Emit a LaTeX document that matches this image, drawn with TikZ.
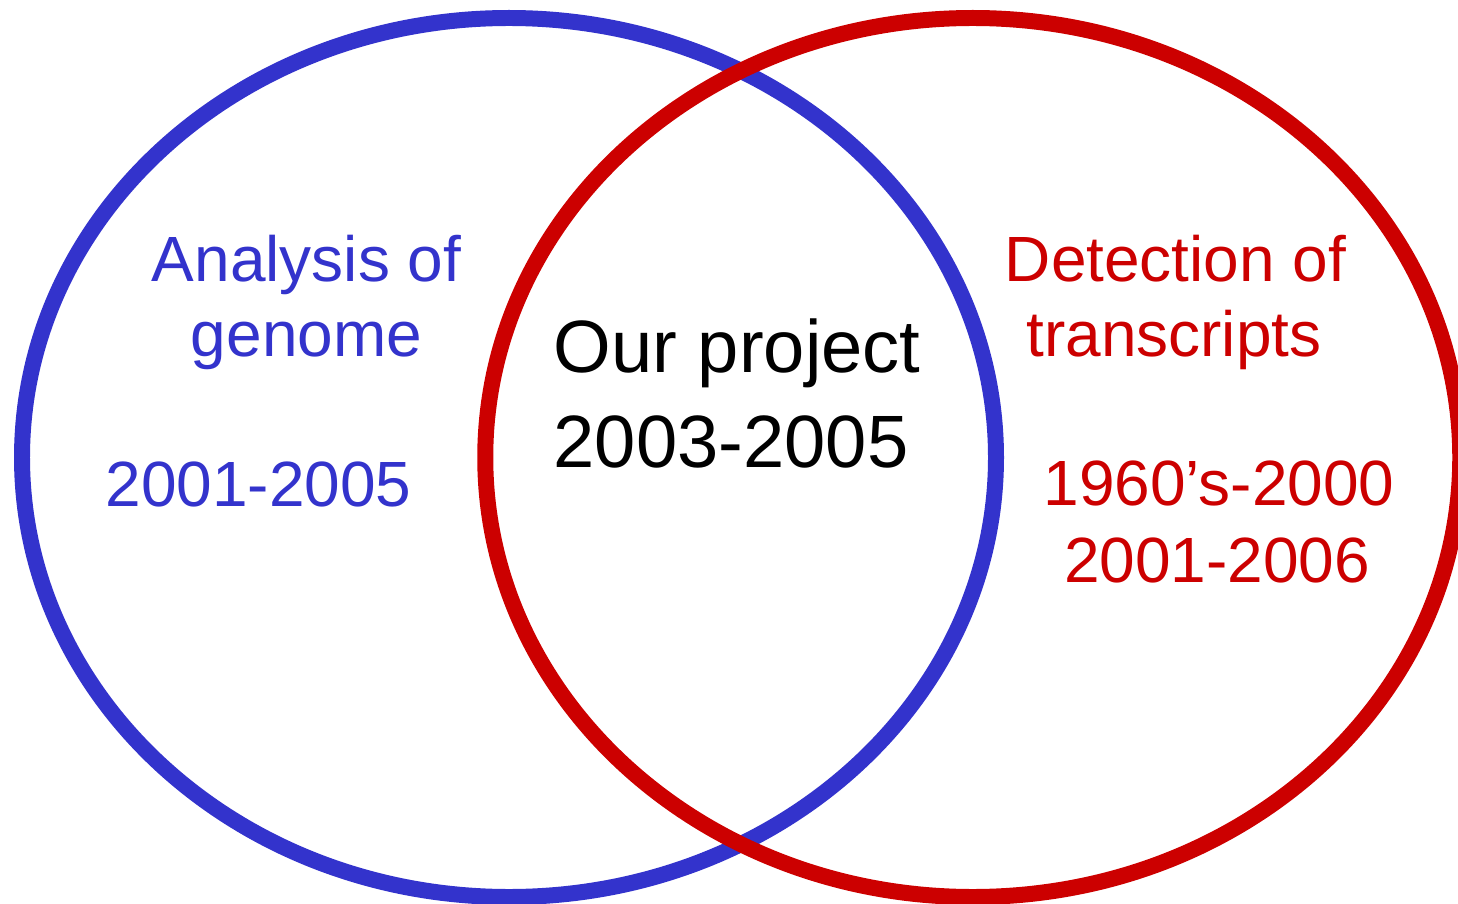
\documentclass[tikz,border=0pt]{standalone}
\usepackage{fontspec}
\setmainfont{Liberation Sans}
\usepackage{xcolor}
\usetikzlibrary{positioning}
\definecolor{genomeblue}{HTML}{3333CC}
\definecolor{transred}{HTML}{CC0000}

\begin{document}
\begin{tikzpicture}[
	setline/.style={line width=4.55pt},
	bluetext/.style={text=genomeblue, inner sep=0pt, anchor=base, font=\fontsize{18.2}{21}\selectfont},
	redtext/.style={text=transred, inner sep=0pt, anchor=base, font=\fontsize{18.2}{21}\selectfont},
	midtext/.style={text=black, inner sep=0pt, anchor=base west, font=\fontsize{21.1}{25}\selectfont}]
			\useasboundingbox (0,0) rectangle (14.58,9.03);
			\draw[setline, genomeblue] (5.09,4.455) ellipse [x radius=4.87cm, y radius=4.395cm];
			\draw[setline, transred] (9.7275,4.455) ellipse [x radius=4.875cm, y radius=4.395cm];
			% left set
			\node[bluetext] (analysis) at (3.065,6.21) {Analysis of};
			\node[bluetext] (genome) at (3.065,5.46) {genome};
			\node[bluetext] (bluedates) at (2.585,3.97) {2001-2005};
			% overlap
			\node[midtext] (project) at (5.53,5.31) {Our project};
			\node[midtext] (projdates) at (5.53,4.36) {2003-2005};
			% right set
			\node[redtext] (detection) at (11.755,6.21) {Detection of};
			\node[redtext] (transcripts) at (11.74,5.46) {transcripts};
			\node[redtext] (sixties) at (12.19,3.98) {1960’s-2000};
			\node[redtext] (reddates) at (12.17,3.21) {2001-2006};
		\end{tikzpicture}
\end{document}
